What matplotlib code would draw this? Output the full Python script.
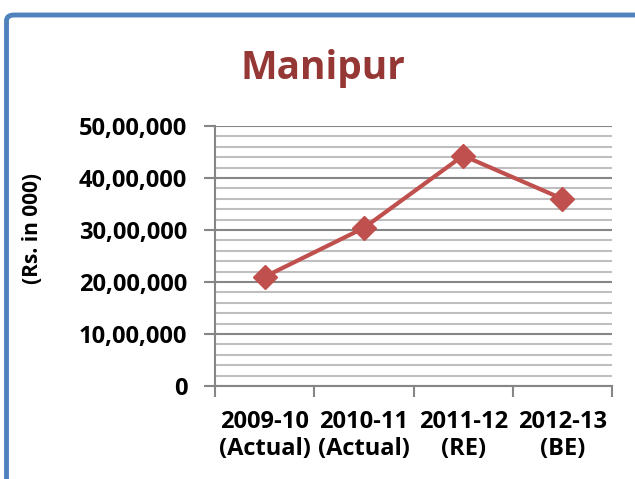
import matplotlib.pyplot as plt
from matplotlib.patches import FancyBboxPatch
from matplotlib.ticker import FuncFormatter, MultipleLocator, FixedLocator

years = ['2009-10\n(Actual)', '2010-11\n(Actual)', '2011-12\n(RE)', '2012-13\n(BE)']
amounts = [2100000, 3040000, 4430000, 3600000]
y_ticks = [0, 1000000, 2000000, 3000000, 4000000, 5000000]

plt.rcParams['font.family'] = ['Open Sans', 'DejaVu Sans']
plt.rcParams['font.weight'] = 'bold'


def indian_fmt(v, pos=None):
    # 4400000 -> 44,00,000
    v = int(round(v))
    if v == 0:
        return '0'
    s = str(v)
    last3 = s[-3:]
    rest = s[:-3]
    parts = []
    while len(rest) > 2:
        parts.insert(0, rest[-2:])
        rest = rest[:-2]
    if rest:
        parts.insert(0, rest)
    return ','.join(parts + [last3])


fig = plt.figure(figsize=(6.35, 4.79), dpi=100)

# blue chart frame, runs off the right and bottom edge
frame = FancyBboxPatch((6.5 / 635, -0.3), 1.3, 1.3 - 15 / 479,
                       boxstyle='round,pad=0,rounding_size=0.012',
                       transform=fig.transFigure, fill=False,
                       edgecolor='#4F81BD', linewidth=3.5, clip_on=False)
fig.patches.append(frame)

ax = fig.add_axes([215 / 635, 1 - 386 / 479, (612 - 215) / 635, (386 - 126) / 479])

x = range(len(years))
ax.plot(x, amounts, color='#C0504D', linewidth=3, marker='D', markersize=12,
        markeredgecolor='#C0504D', zorder=5)

ax.set_xlim(-0.5, len(years) - 0.5)
ax.set_ylim(0, 5000000)
ax.set_yticks(y_ticks)
ax.yaxis.set_minor_locator(MultipleLocator(200000))
ax.yaxis.set_major_formatter(FuncFormatter(indian_fmt))

ax.set_xticks(list(x))
ax.set_xticklabels(years)
ax.xaxis.set_minor_locator(FixedLocator([i - 0.5 for i in range(len(years) + 1)]))

ax.grid(True, which='major', axis='y', color='#868686', linewidth=1.5)
ax.grid(True, which='minor', axis='y', color='#BFBFBF', linewidth=1.5)
ax.set_axisbelow(True)

ax.tick_params(axis='x', which='major', length=0, pad=17, labelsize=17)
ax.tick_params(axis='x', which='minor', length=8, width=1.5, color='#868686', direction='out')
ax.tick_params(axis='y', which='major', length=8, width=1.5, color='#868686', labelsize=17, pad=12)
ax.tick_params(axis='y', which='minor', length=0)

for side in ['top', 'right']:
    ax.spines[side].set_visible(False)
for side in ['left', 'bottom']:
    ax.spines[side].set_color('#868686')
    ax.spines[side].set_linewidth(1.5)

ax.set_ylabel('(Rs. in 000)', fontsize=15, fontweight='bold')
ax.yaxis.set_label_coords((43 - 215) / 397, (386 - 229) / 260)
fig.text(323 / 635, 1 - 79 / 479, 'Manipur', ha='center', va='baseline',
         fontsize=28, fontweight='bold', color='#953735')

fig.savefig('out.png', dpi=100)
